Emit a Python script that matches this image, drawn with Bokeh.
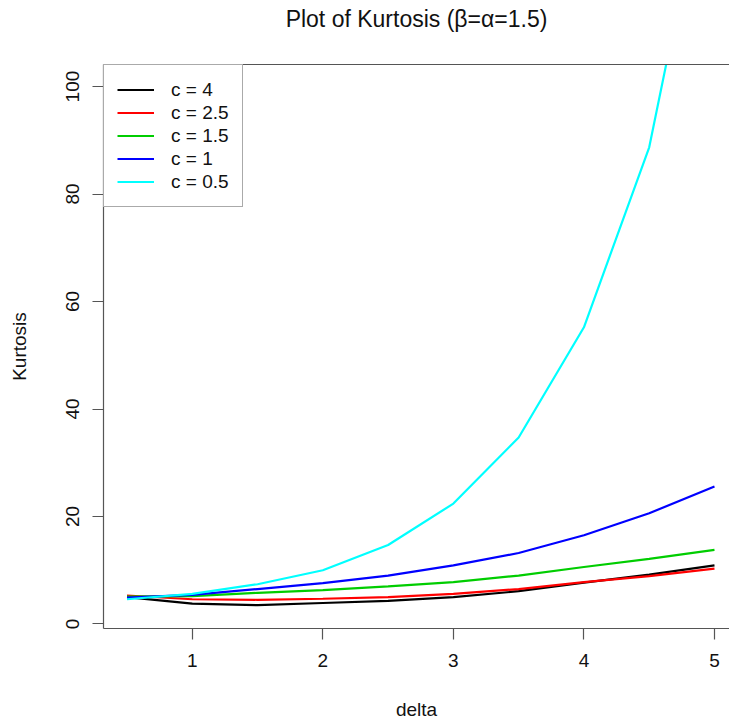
from bokeh.plotting import figure
from bokeh.models import LinearAxis, FixedTicker, Range1d, Legend, LegendItem
from bokeh.embed import file_html
from bokeh.resources import INLINE

delta = [0.5, 1.0, 1.5, 2.0, 2.5, 3.0, 3.5, 4.0, 4.5, 5.0]
k_c4 = [5.0, 3.8, 3.5, 3.9, 4.3, 5.0, 6.1, 7.7, 9.2, 10.9]
k_c25 = [5.3, 4.6, 4.5, 4.7, 5.0, 5.6, 6.5, 7.8, 8.9, 10.3]
k_c15 = [5.1, 5.2, 5.8, 6.3, 7.0, 7.8, 9.0, 10.6, 12.1, 13.8]
k_c1 = [4.9, 5.4, 6.5, 7.6, 9.0, 10.9, 13.2, 16.5, 20.6, 25.6]
k_c05 = [4.6, 5.6, 7.4, 10.0, 14.7, 22.4, 34.7, 55.2, 88.7, 148.0]
series_labels = ["c = 4", "c = 2.5", "c = 1.5", "c = 1", "c = 0.5"]
series_colors = ["#000000", "#FF0000", "#00CD00", "#0000FF", "#00FFFF"]
x_ticks = [1, 2, 3, 4, 5]
y_ticks = [0, 20, 40, 60, 80, 100]
title_text = "Plot of Kurtosis (\u03b2=\u03b1=1.5)"

FONT = "Liberation Sans"
AX = "#555555"
TXT = "#111111"

p = figure(width=729, height=724, output_backend="svg", toolbar_location=None,
           x_range=Range1d(0.32, 5.115), y_range=Range1d(-0.84, 104.1),
           x_axis_location=None, y_axis_location=None,
           min_border_left=103, min_border_right=0, min_border_top=64, min_border_bottom=96)
p.outline_line_color = None
p.grid.visible = False
p.background_fill_color = "white"

def style_axis(ax):
    ax.axis_line_color = AX
    ax.axis_line_width = 1.2
    ax.major_tick_line_color = AX
    ax.major_tick_line_width = 1.2
    ax.minor_tick_line_color = None
    ax.major_tick_in = 0
    ax.major_label_text_font = FONT
    ax.major_label_text_font_size = "19px"
    ax.major_label_text_color = TXT
    ax.axis_label_text_font = FONT
    ax.axis_label_text_font_size = "19px"
    ax.axis_label_text_font_style = "normal"
    ax.axis_label_text_color = TXT

xax = LinearAxis(ticker=FixedTicker(ticks=x_ticks), axis_label="delta")
style_axis(xax)
xax.major_tick_out = 11
xax.major_label_standoff = 14
xax.axis_label_standoff = 29
p.add_layout(xax, "below")

yax = LinearAxis(ticker=FixedTicker(ticks=y_ticks), axis_label="Kurtosis")
style_axis(yax)
yax.major_tick_out = 11
yax.major_label_standoff = 13
yax.major_label_orientation = "vertical"
yax.axis_label_standoff = 34
p.add_layout(yax, "left")

# top edge of the box, carrying the chart title
top = LinearAxis(ticker=FixedTicker(ticks=[]), axis_label=title_text)
top.axis_line_color = AX
top.axis_line_width = 1.2
top.major_tick_line_color = None
top.minor_tick_line_color = None
top.major_tick_in = 0
top.major_tick_out = 0
top.major_label_text_font_size = "0px"
top.axis_label_text_font = FONT
top.axis_label_text_font_size = "23px"
top.axis_label_text_font_style = "normal"
top.axis_label_text_color = TXT
top.axis_label_standoff = 33
p.add_layout(top, "above")

series = [k_c4, k_c25, k_c15, k_c1, k_c05]
items = []
for vals, lab, col in zip(series, series_labels, series_colors):
    r = p.line(delta, vals, line_color=col, line_width=2.2)
    items.append(LegendItem(label=lab, renderers=[r]))

leg = Legend(items=items, location="top_left", margin=0, padding=13,
             spacing=0, glyph_width=37, glyph_height=23, label_height=23,
             label_standoff=17, border_line_color=AX,
             border_line_width=1.2, label_text_font=FONT,
             label_text_font_size="19px", label_text_color=TXT,
             background_fill_alpha=1.0)
p.add_layout(leg)

open("out.html", "w").write(file_html(p, INLINE))
